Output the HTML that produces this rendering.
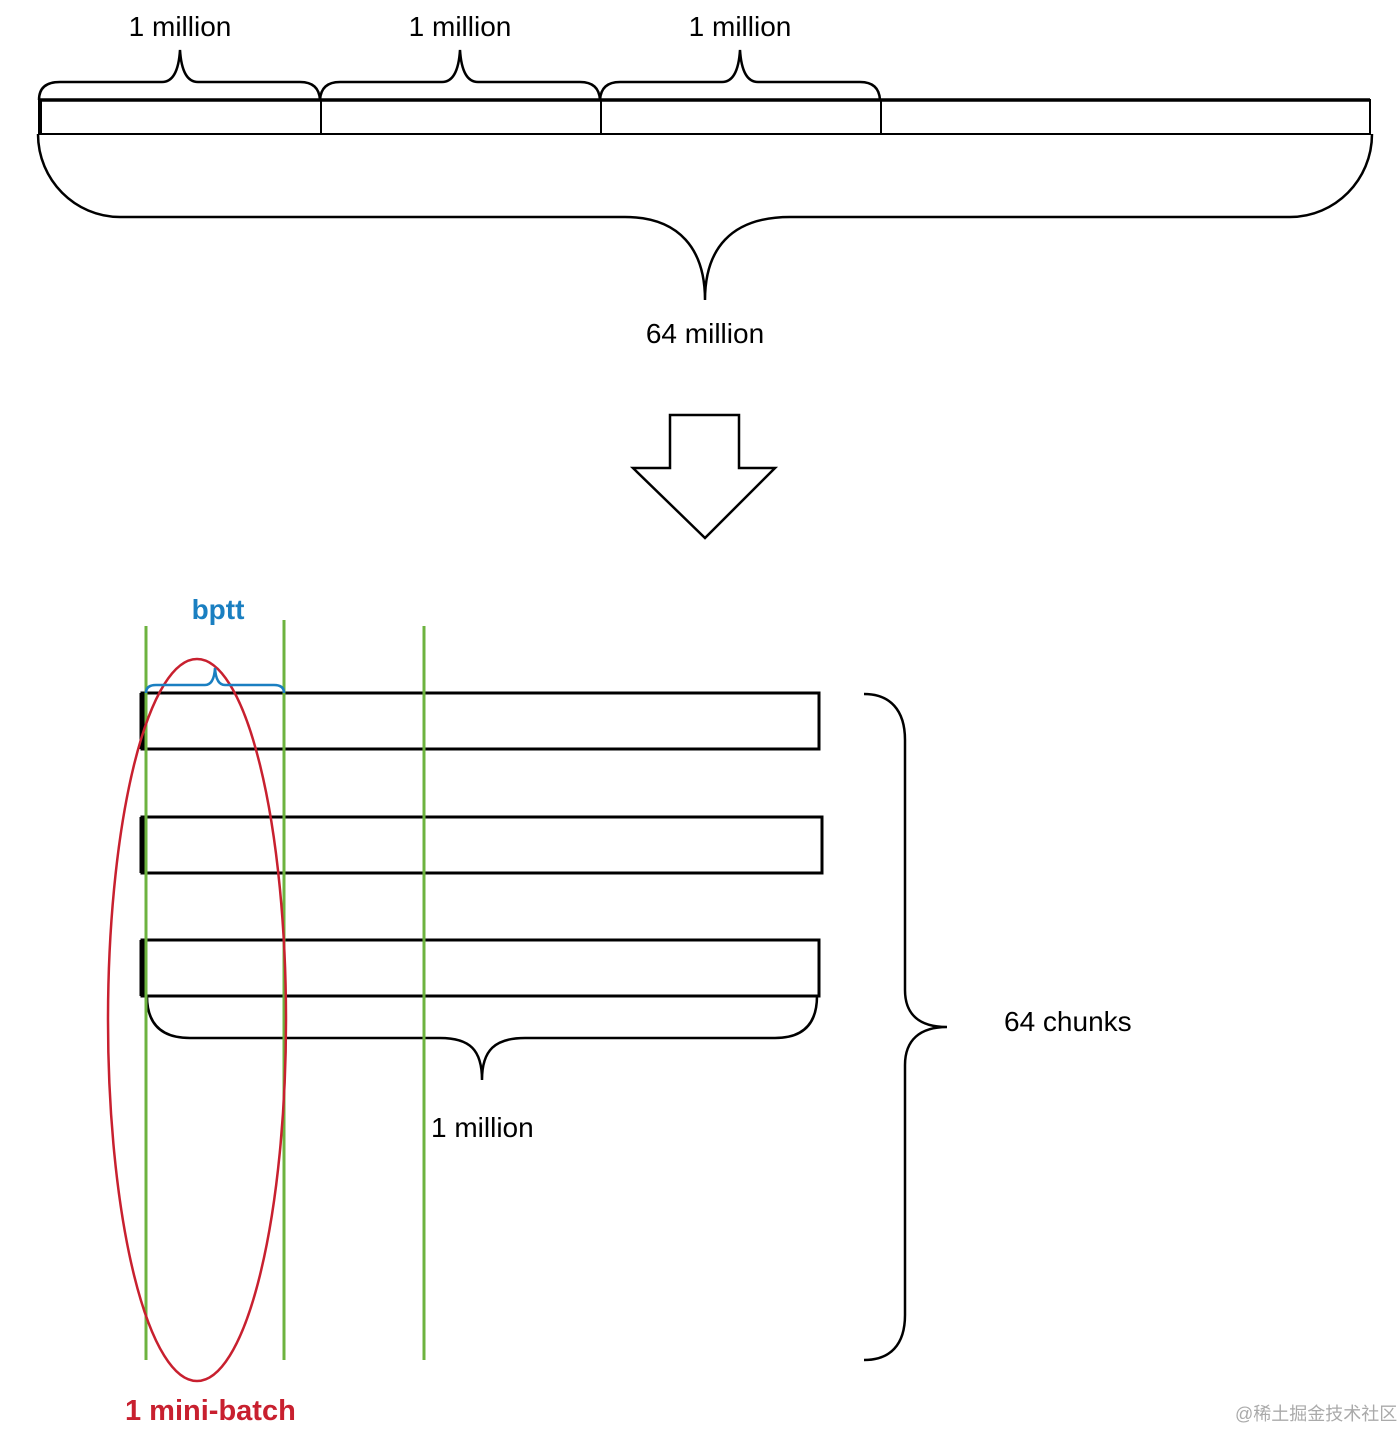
<!DOCTYPE html>
<html><head><meta charset="utf-8"><style>
html,body{margin:0;padding:0;background:#fff;}
svg{display:block;}
text{font-family:"Liberation Sans","Noto Sans CJK SC",sans-serif;}
</style></head><body>
<svg width="1400" height="1430" viewBox="0 0 1400 1430" xmlns="http://www.w3.org/2000/svg">
<g fill="none" stroke="#000" stroke-width="2.5">
  <!-- top bar -->
  <rect x="40" y="100" width="1330" height="34" stroke-width="2"/>
  <line x1="40" y1="100" x2="1370" y2="100" stroke-width="3.5"/>
  <line x1="40" y1="100" x2="40" y2="134" stroke-width="4"/>
  <line x1="321" y1="100" x2="321" y2="134" stroke-width="2"/>
  <line x1="601" y1="100" x2="601" y2="134" stroke-width="2"/>
  <line x1="881" y1="100" x2="881" y2="134" stroke-width="2"/>
  <!-- small braces -->
  <path d="M39,100 Q39,82 60,82 L162,82 Q178,82 180,50 Q182,82 198,82 L300,82 Q319,82 320,100"/>
  <path d="M320,100 Q321,82 340,82 L442,82 Q458,82 460,50 Q462,82 478,82 L580,82 Q599,82 600,100"/>
  <path d="M600,100 Q601,82 620,82 L722,82 Q738,82 740,50 Q742,82 758,82 L860,82 Q879,82 880,100"/>
  <!-- big brace -->
  <path d="M38,134 C38,180 75,217 120,217 L625,217 C680,217 705,250 705,300 C705,250 730,217 790,217 L1290,217 C1335,217 1372,180 1372,134"/>
  <!-- arrow -->
  <polygon points="670,415 739,415 739,468 775,468 705,538 633,468 670,468"/>
  <!-- rows -->
  <rect x="142" y="693" width="677" height="56" stroke-width="3"/>
  <rect x="142" y="817" width="680" height="56" stroke-width="3"/>
  <rect x="142" y="940" width="677" height="56" stroke-width="3"/>
  <line x1="142" y1="693" x2="142" y2="749" stroke-width="5"/>
  <line x1="142" y1="817" x2="142" y2="873" stroke-width="5"/>
  <line x1="142" y1="940" x2="142" y2="996" stroke-width="5"/>
  <!-- bottom brace -->
  <path d="M147,996 Q147,1038 190,1038 L440,1038 C470,1038 482,1050 482,1080 C482,1050 495,1038 525,1038 L775,1038 Q817,1038 817,996"/>
  <!-- right brace -->
  <path d="M864,694 C890,694 905,710 905,740 L905,990 C905,1015 920,1027 947,1027 C920,1027 905,1040 905,1065 L905,1315 C905,1345 890,1360 864,1360"/>
</g>
<!-- green lines -->
<g stroke="#6db33f" stroke-width="3">
  <line x1="146" y1="626" x2="146" y2="1360"/>
  <line x1="284" y1="620" x2="284" y2="1360"/>
  <line x1="424" y1="626" x2="424" y2="1360"/>
</g>
<!-- red ellipse -->
<ellipse cx="197" cy="1020" rx="89" ry="361" fill="none" stroke="#c8202f" stroke-width="2.5"/>
<!-- blue brace -->
<path d="M146,693 Q146,685 156,685 L205,685 Q214,685 215,668 Q216,685 225,685 L274,685 Q284,685 284,693" fill="none" stroke="#1a7fc1" stroke-width="2.5"/>
<!-- text -->
<g font-size="28" fill="#000" text-anchor="middle">
  <text x="180" y="36">1 million</text>
  <text x="460" y="36">1 million</text>
  <text x="740" y="36">1 million</text>
  <text x="705" y="343">64 million</text>
</g>
<text x="1004" y="1031" font-size="28">64 chunks</text>
<text x="431" y="1137" font-size="28">1 million</text>
<text x="218" y="619" font-size="28" font-weight="bold" fill="#1a7fc1" text-anchor="middle">bptt</text>
<text x="125" y="1420" font-size="29" font-weight="bold" fill="#c8202f">1 mini-batch</text>
<text x="1235" y="1420" font-size="18" fill="#aaa">@稀土掘金技术社区</text>
</svg>
</body></html>
